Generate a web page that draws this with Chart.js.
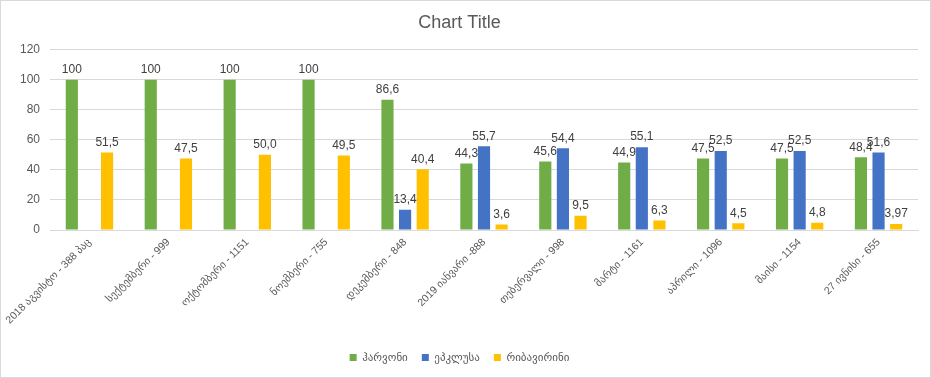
<!DOCTYPE html>
<html>
<head>
<meta charset="utf-8">
<script src="https://cdn.jsdelivr.net/npm/chart.js@4"></script>
<style>
  html, body { margin: 0; padding: 0; background: #fff; }
  #wrap { position: relative; width: 931px; height: 378px; box-sizing: border-box; border: 1px solid #d9d9d9; }
  canvas { display: block; }
</style>
</head>
<body>
<div id="wrap"><canvas id="c" width="929" height="376"></canvas></div>
<script>
const categories = [
  "2018 აგვისტო - 388 პაც",
  "სექტემბერი - 999",
  "ოქტომბერი - 1151",
  "ნოემბერი - 755",
  "დეკემბერი - 848",
  "2019 იანვარი -888",
  "თებერვალი - 998",
  "მარტი - 1161",
  "აპრილი - 1096",
  "მაისი - 1154",
  "27 ივნისი - 655"
];
const seriesNames = ["ჰარვონი", "ეპკლუსა", "რიბავირინი"];
const harvoni = [100, 100, 100, 100, 86.6, 44.3, 45.6, 44.9, 47.5, 47.5, 48.4];
const epclusa = [null, null, null, null, 13.4, 55.7, 54.4, 55.1, 52.5, 52.5, 51.6];
const ribavirin = [51.5, 47.5, 50.0, 49.5, 40.4, 3.6, 9.5, 6.3, 4.5, 4.8, 3.97];
const harvoniLabels = ["100", "100", "100", "100", "86,6", "44,3", "45,6", "44,9", "47,5", "47,5", "48,4"];
const epclusaLabels = ["", "", "", "", "13,4", "55,7", "54,4", "55,1", "52,5", "52,5", "51,6"];
const ribavirinLabels = ["51,5", "47,5", "50,0", "49,5", "40,4", "3,6", "9,5", "6,3", "4,5", "4,8", "3,97"];
const yTicks = [0, 20, 40, 60, 80, 100, 120];

const FONT = "'Liberation Sans', 'DejaVu Sans', sans-serif";

const valueLabels = {
  id: 'valueLabels',
  afterDatasetsDraw(chart) {
    const ctx = chart.ctx;
    ctx.save();
    ctx.font = "12px " + FONT;
    ctx.fillStyle = "#404040";
    ctx.textAlign = "center";
    ctx.textBaseline = "bottom";
    chart.data.datasets.forEach((ds, di) => {
      const meta = chart.getDatasetMeta(di);
      meta.data.forEach((bar, i) => {
        const t = ds.valueLabels[i];
        if (!t || ds.data[i] == null) return;
        ctx.fillText(t, bar.x, bar.y - 4);
      });
    });
    ctx.restore();
  }
};

new Chart(document.getElementById('c'), {
  type: 'bar',
  data: {
    labels: categories,
    datasets: [
      { label: seriesNames[0], data: harvoni, valueLabels: harvoniLabels, backgroundColor: '#70ad47' },
      { label: seriesNames[1], data: epclusa, valueLabels: epclusaLabels, backgroundColor: '#4472c4' },
      { label: seriesNames[2], data: ribavirin, valueLabels: ribavirinLabels, backgroundColor: '#ffc000' }
    ]
  },
  options: {
    responsive: false,
    animation: false,
    devicePixelRatio: 1,
    categoryPercentage: 0.67,
    barPercentage: 0.69,
    layout: { padding: { left: 0, right: 12, top: 4, bottom: 4 } },
    plugins: {
      title: {
        display: true,
        text: 'Chart Title',
        color: '#595959',
        font: { family: FONT, size: 18, weight: 'normal' },
        padding: { top: 7, bottom: 16 }
      },
      legend: {
        position: 'bottom',
        labels: {
          color: '#595959',
          font: { family: FONT, size: 11 },
          boxWidth: 7,
          boxHeight: 7,
          padding: 14
        }
      },
      tooltip: { enabled: false }
    },
    scales: {
      x: {
        afterFit(scale) { scale.height = 108; scale.paddingLeft = 0; scale.paddingRight = 0; },
        grid: { display: false, drawTicks: false },
        border: { color: '#d9d9d9' },
        ticks: {
          color: '#595959',
          font: { family: FONT, size: 10.5 },
          minRotation: 45,
          maxRotation: 45,
          autoSkip: false,
          padding: 6
        }
      },
      y: {
        min: 0,
        max: 120,
        afterFit(scale) { scale.width = 49; },
        afterBuildTicks(scale) { scale.ticks = yTicks.map(v => ({ value: v })); },
        grid: { color: '#d9d9d9', drawTicks: false },
        border: { display: false },
        ticks: {
          color: '#595959',
          font: { family: FONT, size: 12 },
          padding: 10
        }
      }
    }
  },
  plugins: [valueLabels]
});
</script>
</body>
</html>
